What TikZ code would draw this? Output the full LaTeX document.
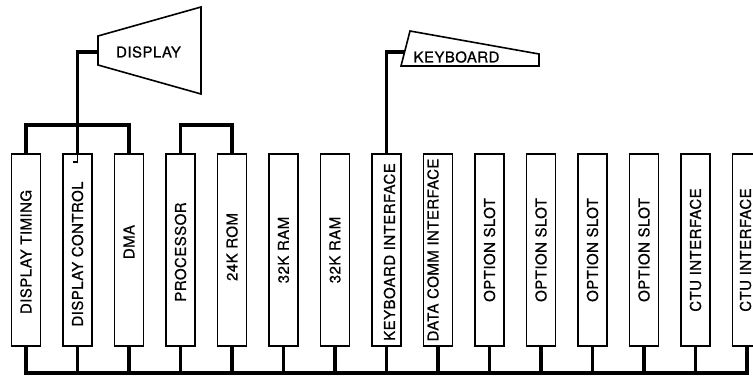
\documentclass[tikz,border=0pt]{standalone}
\usepackage{fontspec}
\setmainfont[FakeBold=0.6,LetterSpace=3]{TeX Gyre Heros}
\begin{document}
\begin{tikzpicture}[x=1pt,y=-1pt,
  card/.style={draw, line width=1.6pt, minimum width=29pt, minimum height=192pt, inner sep=0pt},
  cardtext/.style={rotate=90, font=\fontsize{15}{17}\selectfont, inner sep=0pt},
  wire/.style={line width=3.2pt},
  outline/.style={line width=1.6pt, line join=miter},
  title/.style={font=\fontsize{15}{17}\selectfont, inner sep=0pt}]
\useasboundingbox (0,0) rectangle (753,377);
\fill[white] (0,0) rectangle (753,377);

% plug-in cards on the backplane
\foreach \t/\dx/\dy [count=\k] in {
  DISPLAY TIMING/0/2, DISPLAY CONTROL/0/4, DMA/0/-8, PROCESSOR/0/2,
  24K ROM/0/-3, 32K RAM/0/0, 32K RAM/0/0, KEYBOARD INTERFACE/3/2,
  DATA COMM INTERFACE/-5/0, OPTION SLOT/0/0, OPTION SLOT/0/0,
  OPTION SLOT/0/0, OPTION SLOT/0/0, CTU INTERFACE/0/0, CTU INTERFACE/-1.5/0}{
  \node[card] (b\k) at ({26+51.5*(\k-1)}, 250) {};
  \node[cardtext] (t\k) at ({26+51.5*(\k-1)+\dx}, {250+\dy}) {\t};
}

% common bus along the bottom
\coordinate (bus) at (0,373);
\draw[wire] (b1.south) |- (b15.south |- bus) -- (b15.south);
\foreach \k in {2,...,14} \draw[wire] (b\k.south) -- (b\k.south |- bus);

% local links above the cards
\coordinate (gbar) at (0,125);
\draw[wire] (b1.north) |- (b3.north |- gbar) -- (b3.north);
\draw[wire] (b4.north) |- (b5.north |- gbar) -- (b5.north);

% display unit
\draw[outline] (98,36) -- (201,7) -- (201,94) -- (98,65) -- cycle;
\node[title] (disp) at (148.5,52) {DISPLAY};
\coordinate (dispin) at (98,52);
\draw[wire] (dispin) -| (b2.north);
\draw[line width=1.4pt] (b2.north) -- ++(0,9) -- ++(-4.5,0);

% keyboard unit
\draw[outline] (410,31) -- (539,54) -- (539,66) -- (401,66) -- cycle;
\node[title] (kbd) at (456.5,57) {KEYBOARD};
\coordinate (kbdin) at (404.5,52);
\draw[wire] (kbdin) -| (b8.north);
\end{tikzpicture}
\end{document}
